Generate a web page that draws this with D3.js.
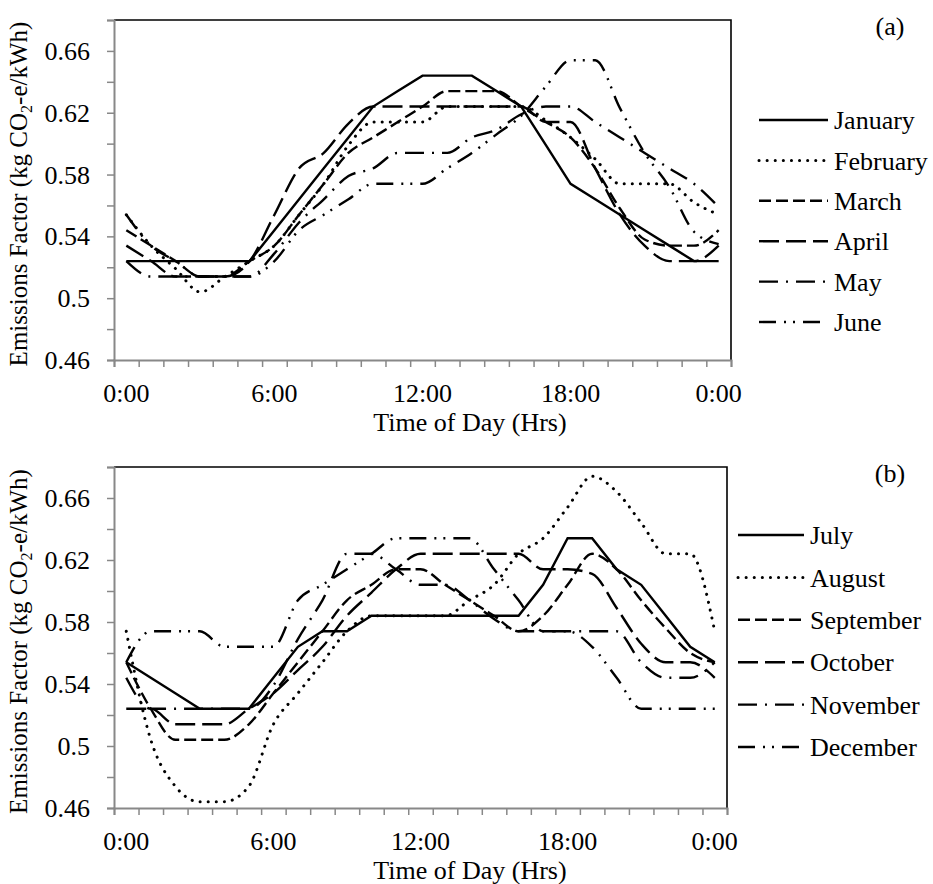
<!DOCTYPE html>
<html><head><meta charset="utf-8">
<script src="https://cdn.jsdelivr.net/npm/d3@7"></script>
<style>
body{margin:0;background:#fff}
svg{display:block}
text{font-family:"Liberation Serif","Times New Roman",serif;fill:#000}
</style>
</head><body>
<svg id="chart" width="933" height="884"></svg>
<script>
// ---- data ----
const hours = [0,1,2,3,4,5,6,7,8,9,10,11,12,13,14,15,16,17,18,19,20,21,22,23,24];
const xTickLabels = ["0:00","6:00","12:00","18:00","0:00"];
const xTickHours = [0,6,12,18,24];
const yTickLabels = ["0.46","0.5","0.54","0.58","0.62","0.66"];

const namesA = ["January","February","March","April","May","June"];
const namesB = ["July","August","September","October","November","December"];

const january  = [0.524,0.524,0.524,0.524,0.524,0.524,0.544,0.564,0.584,0.604,0.624,0.634,0.644,0.644,0.644,0.634,0.624,0.599,0.574,0.564,0.554,0.544,0.534,0.524,0.524];
const february = [0.554,0.534,0.519,0.504,0.514,0.524,0.534,0.554,0.574,0.599,0.614,0.614,0.614,0.624,0.624,0.624,0.624,0.615,0.604,0.590,0.574,0.574,0.574,0.562,0.554];
const march    = [0.544,0.534,0.524,0.514,0.514,0.524,0.534,0.554,0.574,0.594,0.604,0.614,0.624,0.634,0.634,0.634,0.624,0.614,0.604,0.584,0.558,0.538,0.534,0.534,0.544];
const april    = [0.534,0.524,0.514,0.514,0.514,0.524,0.554,0.584,0.594,0.613,0.624,0.624,0.624,0.624,0.624,0.624,0.624,0.614,0.614,0.584,0.554,0.534,0.524,0.524,0.534];
const may      = [0.524,0.514,0.514,0.514,0.514,0.514,0.529,0.549,0.564,0.579,0.584,0.594,0.594,0.594,0.604,0.609,0.619,0.624,0.624,0.614,0.604,0.594,0.584,0.574,0.559];
const june     = [0.554,0.534,0.524,0.514,0.514,0.514,0.524,0.544,0.554,0.564,0.574,0.574,0.574,0.584,0.594,0.606,0.618,0.637,0.654,0.654,0.623,0.594,0.572,0.543,0.535];

const july      = [0.554,0.544,0.534,0.524,0.524,0.524,0.544,0.564,0.574,0.574,0.584,0.584,0.584,0.584,0.584,0.584,0.584,0.604,0.634,0.634,0.614,0.604,0.584,0.564,0.554];
const august    = [0.574,0.504,0.474,0.464,0.464,0.474,0.514,0.534,0.554,0.574,0.584,0.584,0.584,0.584,0.594,0.604,0.624,0.634,0.654,0.674,0.664,0.644,0.624,0.624,0.574];
const september = [0.554,0.524,0.504,0.504,0.504,0.514,0.534,0.554,0.574,0.594,0.604,0.614,0.614,0.604,0.594,0.584,0.574,0.584,0.604,0.624,0.614,0.594,0.576,0.560,0.554];
const october   = [0.524,0.524,0.514,0.514,0.514,0.524,0.534,0.549,0.564,0.584,0.599,0.614,0.624,0.624,0.624,0.624,0.624,0.614,0.614,0.611,0.589,0.566,0.554,0.554,0.544];
const november  = [0.544,0.524,0.524,0.524,0.524,0.524,0.539,0.569,0.594,0.624,0.624,0.614,0.604,0.604,0.594,0.582,0.574,0.574,0.574,0.574,0.574,0.554,0.544,0.544,0.554];
const december  = [0.554,0.574,0.574,0.574,0.564,0.564,0.564,0.594,0.604,0.614,0.624,0.634,0.634,0.634,0.634,0.614,0.594,0.574,0.574,0.564,0.544,0.524,0.524,0.524,0.524];

const seriesA = [january,february,march,april,may,june];
const seriesB = [july,august,september,october,november,december];

// ---- styles ----
const dashes = ["", "0.1 8", "12 5", "20 7", "19 8 2 8", "17 8 2 7 2 8"];
const caps   = ["butt","round","butt","butt","butt","butt"];
const widths = [2.4,3,2.4,2.4,2.4,2.4];

const svg = d3.select("#chart");
const FONT = 26;

const panels = [
  {names:namesA, series:seriesA, tag:"(a)", top:20, bottom:360, left:114, right:731, tagY:35,
   legX:759, legY:120, legDy:40.4, legLen:69},
  {names:namesB, series:seriesB, tag:"(b)", top:467, bottom:808, left:114, right:727, tagY:482,
   legX:738, legY:535, legDy:42.4, legLen:66}
];

panels.forEach(p => {
  const g = svg.append("g");
  const x = d3.scaleLinear().domain([-0.5, 24.5]).range([p.left, p.right]);
  const y = d3.scaleLinear().domain([0.46, 0.68]).range([p.bottom, p.top]);

  g.append("path")
    .attr("d", `M${p.left},${p.top}H${p.right}V${p.bottom}`)
    .attr("fill","none").attr("stroke","#000").attr("stroke-width",1.6);

  const yAxis = d3.axisLeft(y)
    .tickValues(d3.range(0.46, 0.6801, 0.02))
    .tickSize(7).tickFormat("");
  const ya = g.append("g").attr("transform",`translate(${p.left},0)`).call(yAxis);
  ya.select(".domain").attr("stroke","#888").attr("stroke-width",2);
  ya.selectAll(".tick line").attr("stroke","#888").attr("stroke-width",1.5);
  yTickLabels.forEach(t => {
    g.append("text").attr("x", 90).attr("y", y(+t)).attr("dy","0.35em")
      .attr("text-anchor","end").attr("font-size",FONT).text(t);
  });

  const xAxis = d3.axisBottom(x)
    .tickValues(d3.range(-0.5, 24.51, 1))
    .tickSize(7).tickFormat("");
  const xa = g.append("g").attr("transform",`translate(0,${p.bottom})`).call(xAxis);
  xa.select(".domain").attr("stroke","#888").attr("stroke-width",2);
  xa.selectAll(".tick line").attr("stroke","#888").attr("stroke-width",1.5);
  xTickHours.forEach((h,i) => {
    g.append("text").attr("x", x(h)).attr("y", p.bottom + 42)
      .attr("text-anchor","middle").attr("font-size",FONT).text(xTickLabels[i]);
  });

  g.append("text").attr("x",470).attr("y",p.bottom+71)
    .attr("text-anchor","middle").attr("font-size",FONT).text("Time of Day (Hrs)");
  const yt = g.append("text")
    .attr("transform",`translate(27,${(p.top+p.bottom)/2 + 4}) rotate(-90)`)
    .attr("text-anchor","middle").attr("font-size",FONT-1);
  yt.append("tspan").text("Emissions Factor (kg CO");
  yt.append("tspan").attr("font-size",16).attr("dy",5).text("2");
  yt.append("tspan").attr("dy",-5).text("-e/kWh)");

  g.append("text").attr("x",890).attr("y",p.tagY).attr("text-anchor","middle")
    .attr("font-size",FONT).text(p.tag);

  p.series.forEach((s,k) => {
    const line = d3.line().x((d,i)=>x(hours[i])).y(d=>y(d))
      .curve(k===0 ? d3.curveLinear : d3.curveMonotoneX);
    g.append("path").datum(s).attr("d",line)
      .attr("fill","none").attr("stroke","#000")
      .attr("stroke-width",widths[k])
      .attr("stroke-dasharray",dashes[k]||null)
      .attr("stroke-linecap",caps[k]);
  });

  p.names.forEach((n,k) => {
    const ly = p.legY + k*p.legDy;
    g.append("line").attr("x1",p.legX).attr("x2",p.legX+p.legLen)
      .attr("y1",ly).attr("y2",ly)
      .attr("stroke","#000").attr("stroke-width",widths[k])
      .attr("stroke-dasharray",dashes[k]||null)
      .attr("stroke-linecap",caps[k]);
    g.append("text").attr("x",p.legX+p.legLen+6).attr("y",ly).attr("dy","0.35em")
      .attr("font-size",FONT).text(n);
  });
});
</script>
</body></html>
